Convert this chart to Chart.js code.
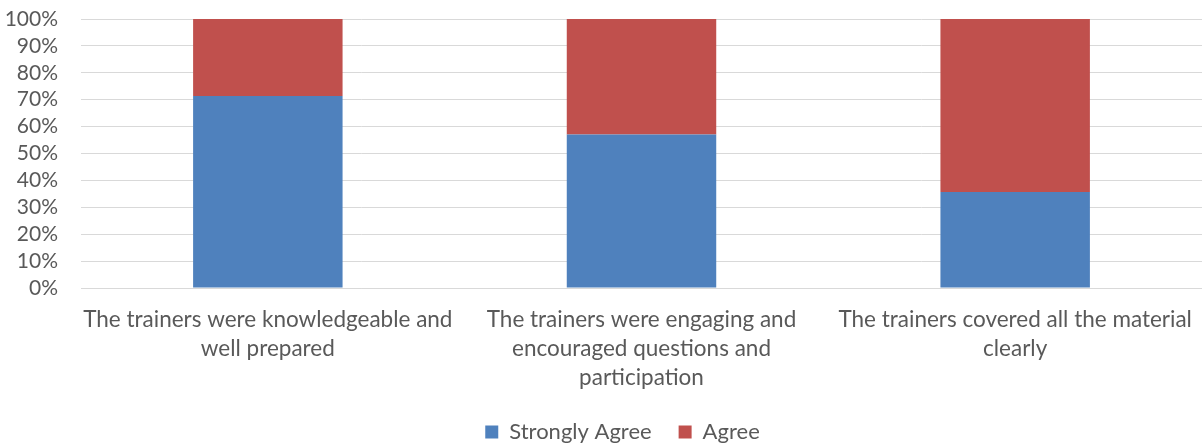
<!DOCTYPE html>
<html>
<head>
<meta charset="utf-8">
<script src="https://cdn.jsdelivr.net/npm/chart.js@4/dist/chart.umd.min.js"></script>
<style>
  html, body { margin: 0; padding: 0; background: #fff; }
  #wrap { width: 1202px; height: 443px; position: relative; }
</style>
</head>
<body>
<div id="wrap"><canvas id="c"></canvas></div>
<script>
const categories = [
  ["The trainers were knowledgeable and", "well prepared"],
  ["The trainers were engaging and", "encouraged questions and", "participation"],
  ["The trainers covered all the material", "clearly"]
];
const stronglyAgree = [71.4, 57.1, 35.7];
const agree = [28.6, 42.9, 64.3];
const seriesNames = ["Strongly Agree", "Agree"];

const textColor = "#595959";
const fontFamily = "Lato, 'Open Sans', sans-serif";

new Chart(document.getElementById("c"), {
  type: "bar",
  data: {
    labels: categories,
    datasets: [
      { label: seriesNames[0], data: stronglyAgree, backgroundColor: "#4f81bd", borderWidth: 0 },
      { label: seriesNames[1], data: agree, backgroundColor: "#c0504d", borderWidth: 0 }
    ]
  },
  options: {
    responsive: true,
    maintainAspectRatio: false,
    animation: false,
    datasets: { bar: { categoryPercentage: 1.0, barPercentage: 0.4 } },
    layout: { padding: { left: 6, right: -37, top: 19, bottom: -10 } },
    plugins: {
      tooltip: { enabled: false },
      legend: {
        position: "bottom",
        labels: {
          boxWidth: 13, boxHeight: 13, padding: 27,
          color: textColor,
          font: { family: fontFamily, size: 22, lineHeight: 1.0 }
        }
      }
    },
    scales: {
      x: {
        stacked: true,
        grid: { display: false, drawTicks: false },
        border: { display: true, color: "#d9d9d9", width: 1 },
        ticks: {
          color: textColor, padding: 17, maxRotation: 0, autoSkip: false,
          font: { family: fontFamily, size: 22.5, lineHeight: 1.29 }
        },
        afterFit: (scale) => { scale.height = 106; scale.paddingLeft = 0; scale.paddingRight = 0; }
      },
      y: {
        stacked: true,
        min: 0, max: 100,
        grid: { color: "#d9d9d9", drawTicks: false },
        border: { display: false },
        ticks: {
          stepSize: 10, padding: 23, color: textColor, autoSkip: false,
          font: { family: fontFamily, size: 21 },
          callback: v => v + "%"
        },
        afterFit: (scale) => { scale.width = 75; scale.paddingTop = 0; scale.paddingBottom = 0; }
      }
    }
  }
});
</script>
</body>
</html>
